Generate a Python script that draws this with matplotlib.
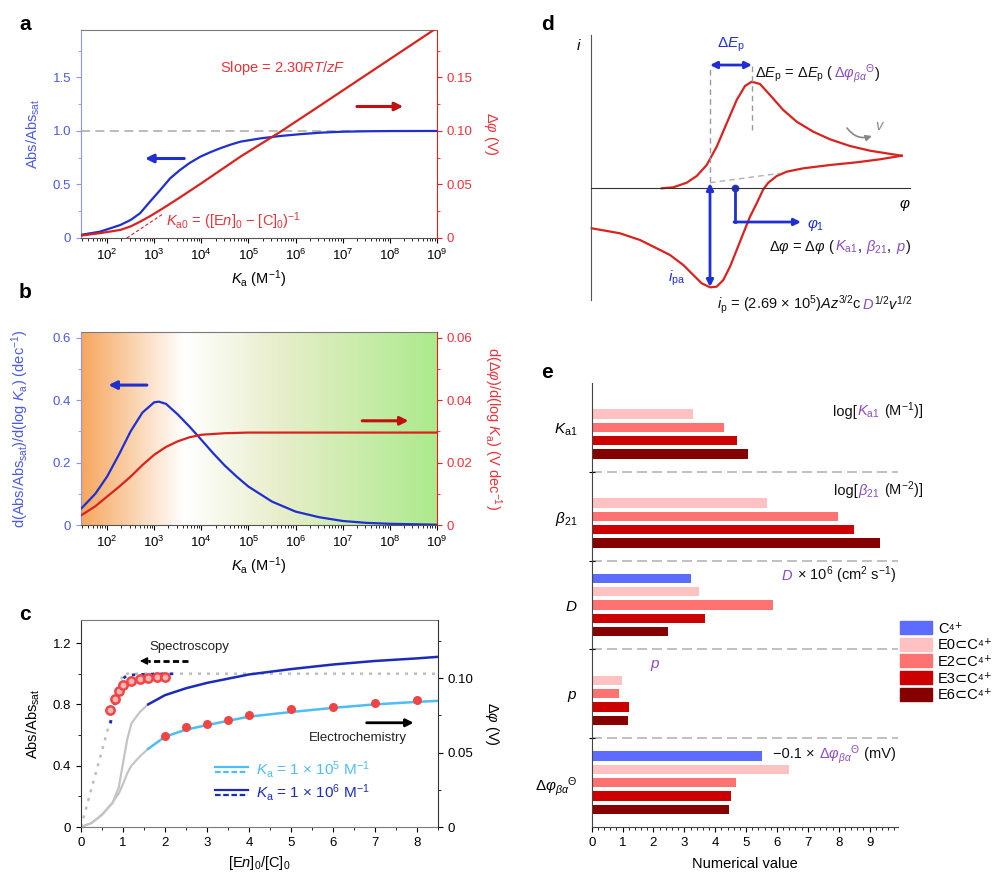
import numpy as np
import matplotlib
matplotlib.use("Agg")
import matplotlib.pyplot as plt
from matplotlib.lines import Line2D
from matplotlib.patches import Patch
from matplotlib.ticker import LogLocator, MultipleLocator, NullFormatter, FixedLocator
from matplotlib.legend_handler import HandlerBase
from matplotlib.offsetbox import TextArea, HPacker, AnnotationBbox

plt.rcParams['font.family'] = ['Liberation Sans', 'DejaVu Sans']
plt.rcParams['mathtext.fontset'] = 'custom'
plt.rcParams['mathtext.rm'] = 'Liberation Sans'
plt.rcParams['mathtext.it'] = 'Liberation Sans:italic'
plt.rcParams['mathtext.bf'] = 'Liberation Sans:bold'
plt.rcParams['mathtext.fallback'] = 'stixsans'
plt.rcParams['font.size'] = 9.5
plt.rcParams['xtick.direction'] = 'out'
plt.rcParams['ytick.direction'] = 'out'
plt.rcParams['xtick.major.size'] = 3.5
plt.rcParams['ytick.major.size'] = 3.5
plt.rcParams['xtick.minor.size'] = 2
plt.rcParams['ytick.minor.size'] = 2

# ---------------- data ----------------
# panel a (log10 Ka)
a_logka_abs = [1.43, 1.85, 2.28, 2.50, 2.70, 2.91, 3.13, 3.34, 3.55, 3.75, 3.98, 4.20, 4.40, 4.62, 4.83,
               5.26, 5.68, 6.10, 6.53, 7.0, 7.5, 8.0, 9.0]
a_abs = [0.028, 0.059, 0.121, 0.168, 0.231, 0.339, 0.449, 0.558, 0.636, 0.700, 0.760, 0.803, 0.838, 0.872, 0.900,
         0.931, 0.953, 0.970, 0.984, 0.993, 0.997, 0.999, 1.0]
a_logka_dphi = [1.43, 1.85, 2.28, 2.50, 2.70, 2.91, 3.13, 3.34, 3.55, 3.98, 4.83, 5.68, 6.53, 7.0, 8.0, 9.0]
a_dphi = [0.0021, 0.0045, 0.0075, 0.0108, 0.0152, 0.0203, 0.0262, 0.0320, 0.0380, 0.0505, 0.0760, 0.0993,
          0.1240, 0.1378, 0.1671, 0.1964]
a_tangent_logka = [2.42, 3.20]
a_tangent_dphi = [0.0, 0.0229]

# panel b
b_logka = [1.46, 1.75, 2.0, 2.25, 2.5, 2.75, 3.0, 3.1, 3.25, 3.5, 3.75, 4.0, 4.25, 4.5, 4.75, 5.0, 5.5,
           6.0, 6.5, 7.0, 7.5, 8.0, 9.0]
b_dabs = [0.054, 0.100, 0.155, 0.225, 0.300, 0.360, 0.393, 0.395, 0.388, 0.354, 0.315, 0.273, 0.230, 0.190,
          0.155, 0.123, 0.075, 0.043, 0.025, 0.013, 0.007, 0.004, 0.001]
b_logka_red = [1.46, 1.75, 2.0, 2.25, 2.5, 2.75, 3.0, 3.25, 3.5, 3.75, 4.0, 4.5, 5.0, 6.0, 7.0, 8.0, 9.0]
b_ddphi = [0.0032, 0.0060, 0.0091, 0.0122, 0.0155, 0.0192, 0.0225, 0.0250, 0.0268, 0.0281, 0.0289, 0.0294,
           0.0296, 0.0296, 0.0296, 0.0296, 0.0296]

# panel c
c_ideal_x = [0.0, 1.0, 8.5]
c_ideal_y = [0.0, 1.0, 1.0]
c_gray_x = [0.0, 0.25, 0.5, 0.75, 0.9, 1.0, 1.1, 1.2, 1.4, 1.6]
c_gray_1e6 = [0.0, 0.026, 0.08, 0.156, 0.26, 0.416, 0.57, 0.676, 0.75, 0.80]
c_gray_1e5 = [0.0, 0.026, 0.08, 0.16, 0.22, 0.28, 0.35, 0.40, 0.46, 0.51]
c_fit_x = [1.6, 2.0, 2.5, 3.0, 4.0, 5.0, 6.0, 7.0, 8.0, 8.5]
c_fit_1e6 = [0.80, 0.86, 0.905, 0.94, 0.995, 1.03, 1.06, 1.083, 1.10, 1.11]
c_fit_1e5 = [0.51, 0.589, 0.635, 0.665, 0.72, 0.75, 0.777, 0.80, 0.816, 0.823]
c_spec_1e6_x = [0.7, 0.8, 0.9, 1.0, 1.1, 1.4, 1.8, 2.2]
c_spec_1e6_y = [0.676, 0.80, 0.90, 0.968, 0.99, 0.995, 0.998, 0.999]
c_spec_1e5_x = [0.73, 0.8, 0.9, 1.0, 1.2, 1.4, 1.6, 1.8, 2.0]
c_spec_1e5_y = [0.74, 0.81, 0.87, 0.91, 0.945, 0.962, 0.972, 0.978, 0.982]
c_spec_pts_x = [0.7, 0.8, 0.9, 1.0, 1.2, 1.4, 1.6, 1.8, 2.0]
c_spec_pts_y = [0.762, 0.838, 0.886, 0.925, 0.953, 0.968, 0.975, 0.980, 0.981]
c_ec_pts_x = [2.0, 2.5, 3.0, 3.5, 4.0, 5.0, 6.0, 7.0, 8.0]
c_ec_pts_y = [0.596, 0.654, 0.674, 0.700, 0.732, 0.771, 0.786, 0.810, 0.830]

# panel d (schematic CV, arbitrary units)
cv_fwd_E = [70.7, 82.3, 95.7, 105.7, 115.7, 125.7, 135.7, 145.7, 154.0, 160.7, 169.0, 179.0, 192.3, 205.7,
            222.3, 239.0, 259.0, 279.0, 310.7]
cv_fwd_i = [-0.3, 0.7, 5.3, 12.0, 23.0, 41.3, 64.7, 88.0, 102.0, 106.3, 104.0, 93.0, 78.0, 66.3,
            56.3, 48.7, 42.0, 37.3, 32.3]
cv_rev_E = [310.7, 289.0, 265.7, 239.0, 212.3, 195.7, 185.7, 177.3, 172.3, 165.7, 159.0, 152.3, 145.7, 139.0,
            132.3, 125.7, 119.0, 110.7, 102.3, 92.3, 79.0, 65.7, 49.0, 29.0, 0.7]
cv_rev_i = [32.3, 28.7, 25.7, 23.0, 19.7, 16.3, 12.0, 5.3, -1.3, -15.3, -28.7, -45.3, -62.0, -78.7,
            -92.0, -98.7, -99.3, -95.3, -87.0, -77.0, -67.0, -60.3, -52.0, -45.3, -40.3]

# panel e
e_groups = [r'$K_\mathrm{a1}$', r'$\beta_{21}$', r'$D$', r'$p$', r'$\Delta\varphi_{\beta\alpha}{}^{\Theta}$']
e_series = ['C⁴⁺', 'E0⊂C⁴⁺', 'E2⊂C⁴⁺', 'E3⊂C⁴⁺', 'E6⊂C⁴⁺']
e_C4 = [np.nan, np.nan, 3.22, np.nan, 5.52]
e_E0 = [3.27, 5.68, 3.47, 0.97, 6.40]
e_E2 = [4.29, 7.97, 5.86, 0.89, 4.68]
e_E3 = [4.70, 8.49, 3.66, 1.21, 4.50]
e_E6 = [5.07, 9.33, 2.48, 1.18, 4.45]

# ---------------- styles ----------------
BLUE = '#1f2fd0'
BLUE_AX = '#4a5ae0'
RED = '#d8231f'
RED_AX = '#e8333a'
LBLUE = '#4fbdf5'
DBLUE = '#1b2db8'
PURPLE = '#8a4cc4'
GRAY = '#b5b5b5'
e_colors = ['#5b6cff', '#ffc1c1', '#ff7272', '#cc0000', '#870000']

fig = plt.figure(figsize=(10, 8.83), dpi=100)


def multicolor(ax, x, y, parts, size=10.5, align=0.0, coords='data'):
    areas = [TextArea(s, textprops=dict(color=c, fontsize=size)) for s, c in parts]
    box = HPacker(children=areas, align='baseline', pad=0, sep=0)
    ab = AnnotationBbox(box, (x, y), xycoords=coords, box_alignment=(align, 0.5),
                        frameon=False, pad=0, annotation_clip=False)
    ax.add_artist(ab)


def log_axis(ax):
    ax.set_xscale('log')
    ax.set_xlim(10 ** 1.447, 1e9)
    ax.xaxis.set_major_locator(FixedLocator([10.0 ** k for k in range(2, 10)]))
    ax.xaxis.set_minor_locator(LogLocator(base=10, subs=np.arange(2, 10), numticks=30))
    ax.xaxis.set_minor_formatter(NullFormatter())


def style_twin(ax, ax2, lcol, rcol, lspine, rspine):
    ax.spines['left'].set_color(lspine)
    ax.spines['right'].set_visible(False)
    ax.spines['top'].set_color('#7a7a7a')
    ax.spines['bottom'].set_color('#555555')
    ax2.spines['left'].set_visible(False)
    ax2.spines['top'].set_visible(False)
    ax2.spines['bottom'].set_visible(False)
    ax2.spines['right'].set_color(rspine)
    ax.tick_params(axis='y', which='both', colors=lspine, labelcolor=lcol)
    ax2.tick_params(axis='y', which='both', colors=rspine, labelcolor=rcol)


# ---------------- panel a ----------------
axa = fig.add_axes([0.081, 0.7305, 0.356, 0.2356])
log_axis(axa)
axa.axhline(1.0, color=GRAY, ls=(0, (5, 3)), lw=1.3, zorder=1)
axa.plot(10 ** np.array(a_logka_abs), a_abs, color=BLUE, lw=1.6, zorder=3)
axa.set_ylim(0, 1.944)
axa.set_yticks([0, 0.5, 1.0, 1.5])
axa.set_yticklabels(['0', '0.5', '1.0', '1.5'])
axa.yaxis.set_minor_locator(MultipleLocator(0.25))
axa2 = axa.twinx()
axa2.plot(10 ** np.array(a_logka_dphi), a_dphi, color=RED, lw=1.6)
axa2.plot(10 ** np.array(a_tangent_logka), a_tangent_dphi, color=RED, lw=0.8, ls=(0, (3, 2)))
axa2.set_ylim(0, 0.1944)
axa2.set_yticks([0, 0.05, 0.10, 0.15])
axa2.set_yticklabels(['0', '0.05', '0.10', '0.15'])
axa2.yaxis.set_minor_locator(MultipleLocator(0.025))
style_twin(axa, axa2, BLUE_AX, RED_AX, '#8c96f2', '#e02020')
axa.set_ylabel('Abs/Abs$_\\mathrm{sat}$', color=BLUE_AX, fontsize=10.5)
axa.yaxis.set_label_coords(-0.11, 0.5)
axa2.set_ylabel(r'$\Delta\varphi$ (V)', color=RED_AX, fontsize=10.5, rotation=270, va='bottom')
axa2.yaxis.set_label_coords(1.125, 0.5)
axa.set_xlabel(r'$K_\mathrm{a}$ (M$^{-1}$)', fontsize=10.5, labelpad=4)
axa.text(0.39, 0.817, 'Slope = 2.30$RT/zF$', color=RED_AX, fontsize=10.5, transform=axa.transAxes, va='center')
axa.text(0.24, 0.08, r'$K_\mathrm{a0}$ = ([E$n$]$_\mathrm{0}$ − [C]$_\mathrm{0}$)$^{-1}$', color=RED_AX,
         fontsize=10.5, transform=axa.transAxes, va='center')
axa.annotate('', xy=(0.18, 0.382), xytext=(0.29, 0.382), xycoords='axes fraction',
             arrowprops=dict(arrowstyle='-|>', color=BLUE, lw=2.2, mutation_scale=12, shrinkA=0, shrinkB=0))
axa.annotate('', xy=(0.905, 0.632), xytext=(0.775, 0.632), xycoords='axes fraction',
             arrowprops=dict(arrowstyle='-|>', color='#c01010', lw=2.2, mutation_scale=12, shrinkA=0, shrinkB=0))

# ---------------- panel b ----------------
posb = [0.081, 0.4054, 0.356, 0.2186]
bg = fig.add_axes(posb, zorder=-1)
stops = [0.0, 0.29, 0.55, 1.0]
cols = np.array([[246, 166, 94], [255, 255, 255], [233, 238, 204], [172, 234, 140]]) / 255.0
xs = np.linspace(0, 1, 512)
grad = np.stack([np.interp(xs, stops, cols[:, k]) for k in range(3)], axis=-1)[None, :, :]
bg.imshow(grad, aspect='auto', extent=[0, 1, 0, 1])
bg.axis('off')
axb = fig.add_axes(posb)
axb.set_facecolor('none')
log_axis(axb)
axb.plot(10 ** np.array(b_logka), b_dabs, color=BLUE, lw=1.6, zorder=3)
axb.set_ylim(0, 0.618)
axb.set_yticks([0, 0.2, 0.4, 0.6])
axb.set_yticklabels(['0', '0.2', '0.4', '0.6'])
axb.yaxis.set_minor_locator(MultipleLocator(0.1))
axb2 = axb.twinx()
axb2.plot(10 ** np.array(b_logka_red), b_ddphi, color=RED, lw=1.6)
axb2.set_ylim(0, 0.0618)
axb2.set_yticks([0, 0.02, 0.04, 0.06])
axb2.set_yticklabels(['0', '0.02', '0.04', '0.06'])
axb2.yaxis.set_minor_locator(MultipleLocator(0.01))
style_twin(axb, axb2, BLUE_AX, RED_AX, '#8c96f2', '#e02020')
axb.set_ylabel(r'd(Abs/Abs$_\mathrm{sat}$)/d(log $K_\mathrm{a}$) (dec$^{-1}$)', color=BLUE_AX, fontsize=10.5)
axb.yaxis.set_label_coords(-0.14, 0.5)
axb2.set_ylabel(r'd($\Delta\varphi$)/d(log $K_\mathrm{a}$) (V dec$^{-1}$)', color=RED_AX, fontsize=10.5,
                rotation=270, va='bottom')
axb2.yaxis.set_label_coords(1.125, 0.5)
axb.set_xlabel(r'$K_\mathrm{a}$ (M$^{-1}$)', fontsize=10.5, labelpad=4)
axb.annotate('', xy=(0.077, 0.725), xytext=(0.185, 0.725), xycoords='axes fraction',
             arrowprops=dict(arrowstyle='-|>', color=BLUE, lw=2.2, mutation_scale=12, shrinkA=0, shrinkB=0))
axb.annotate('', xy=(0.92, 0.54), xytext=(0.79, 0.54), xycoords='axes fraction',
             arrowprops=dict(arrowstyle='-|>', color='#c01010', lw=2.2, mutation_scale=12, shrinkA=0, shrinkB=0))

# ---------------- panel c ----------------
axc = fig.add_axes([0.081, 0.0634, 0.357, 0.2344])
axc.plot(c_ideal_x, c_ideal_y, color='#bdbdbd', ls=(0, (1.2, 2.4)), lw=1.8, zorder=1)
axc.plot(c_gray_x, c_gray_1e6, color='#c4c4c4', lw=1.6, zorder=2)
axc.plot(c_gray_x, c_gray_1e5, color='#c4c4c4', lw=1.6, zorder=2)
axc.plot(c_fit_x, c_fit_1e6, color=DBLUE, lw=1.8, zorder=3)
axc.plot(c_fit_x, c_fit_1e5, color=LBLUE, lw=1.8, zorder=3)
axc.plot(c_spec_1e6_x, c_spec_1e6_y, color=DBLUE, ls=(0, (1.2, 2.2)), lw=2, zorder=3)
axc.plot(c_spec_1e5_x, c_spec_1e5_y, color=LBLUE, ls=(0, (1.2, 2.2)), lw=2, zorder=3)
axc.plot(c_spec_pts_x, c_spec_pts_y, 'o', ms=6, mfc='#ffb5b5', mec='#f04545', mew=1.8, zorder=4)
axc.plot(c_ec_pts_x, c_ec_pts_y, 'o', ms=6.5, color='#f04545', mec='none', zorder=4)
axc.set_xlim(0, 8.5)
axc.set_ylim(0, 1.35)
axc.set_xticks(range(0, 9))
axc.xaxis.set_minor_locator(MultipleLocator(0.5))
axc.set_yticks([0, 0.4, 0.8, 1.2])
axc.set_yticklabels(['0', '0.4', '0.8', '1.2'])
axc.yaxis.set_minor_locator(MultipleLocator(0.2))
axc2 = axc.twinx()
axc2.set_ylim(0, 0.1389)
axc2.set_yticks([0, 0.05, 0.10])
axc2.set_yticklabels(['0', '0.05', '0.10'])
axc2.yaxis.set_minor_locator(MultipleLocator(0.025))
for s in ['left', 'top', 'bottom']:
    axc2.spines[s].set_visible(False)
axc.spines['right'].set_visible(False)
axc.spines['top'].set_color('#7a7a7a')
axc.spines['bottom'].set_color('#7a7a7a')
axc.spines['left'].set_color('#333333')
axc2.spines['right'].set_color('#333333')
axc.set_ylabel('Abs/Abs$_\\mathrm{sat}$', fontsize=10.5)
axc.yaxis.set_label_coords(-0.11, 0.5)
axc2.set_ylabel(r'$\Delta\varphi$ (V)', fontsize=10.5, rotation=270, va='bottom')
axc2.yaxis.set_label_coords(1.125, 0.5)
axc.set_xlabel(r'[E$n$]$_\mathrm{0}$/[C]$_\mathrm{0}$', fontsize=10.5, labelpad=4)
axc.text(2.58, 1.175, 'Spectroscopy', fontsize=9.5, ha='center', va='center', color='#222222')
axc.plot([2.55, 1.6], [1.083, 1.083], color='black', lw=2, ls=(0, (2.2, 1.2)))
axc.annotate('', xy=(1.4, 1.083), xytext=(1.62, 1.083),
             arrowprops=dict(arrowstyle='-|>', color='black', lw=1, mutation_scale=11, shrinkA=0, shrinkB=0))
axc.text(6.6, 0.58, 'Electrochemistry', fontsize=9.5, ha='center', va='center', color='#222222')
axc.annotate('', xy=(7.92, 0.68), xytext=(6.8, 0.68),
             arrowprops=dict(arrowstyle='-|>', color='black', lw=2, mutation_scale=11, shrinkA=0, shrinkB=0))


class StackHandler(HandlerBase):
    def create_artists(self, legend, orig_handle, xdescent, ydescent, width, height, fontsize, trans):
        c = orig_handle.get_color()
        x0 = -xdescent
        l1 = Line2D([x0, x0 + width], [-ydescent + 0.72 * height] * 2, color=c, lw=1.6, transform=trans)
        l2 = Line2D([x0, x0 + width], [-ydescent + 0.22 * height] * 2, color=c, lw=1.6,
                    ls=(0, (2.5, 1.2)), transform=trans)
        return [l1, l2]


hl = [Line2D([], [], color=LBLUE), Line2D([], [], color=DBLUE)]
leg = axc.legend(hl, [r'$K_\mathrm{a}$ = 1 × 10$^5$ M$^{-1}$', r'$K_\mathrm{a}$ = 1 × 10$^6$ M$^{-1}$'],
                 handler_map={Line2D: StackHandler()}, loc='upper left', bbox_to_anchor=(0.375, 0.33),
                 frameon=False, fontsize=11, handlelength=2.2, handletextpad=0.5, labelspacing=0.15,
                 borderpad=0, borderaxespad=0, labelcolor=[LBLUE, DBLUE])

# ---------------- panel d ----------------
axd = fig.add_axes([0.575, 0.6376, 0.37, 0.3284])
axd.set_xlim(-16, 354)
axd.set_ylim(-132, 158)
axd.set_facecolor('none')
for s in ['top', 'right']:
    axd.spines[s].set_visible(False)
axd.spines['left'].set_position(('data', 0))
axd.spines['left'].set_bounds(-112, 153)
axd.spines['bottom'].set_position(('data', 0))
axd.spines['bottom'].set_bounds(0, 319)
axd.spines['left'].set_color('#555555')
axd.spines['bottom'].set_color('#333333')
axd.set_xticks([])
axd.set_yticks([])
axd.plot(cv_fwd_E, cv_fwd_i, color=RED, lw=1.6, solid_joinstyle='round')
axd.plot(cv_rev_E, cv_rev_i, color=RED, lw=1.6, solid_joinstyle='round')
axd.plot([119, 119], [6, 123], color='#999999', lw=1, ls=(0, (4, 3)))
axd.plot([160.7, 160.7], [58, 123], color='#999999', lw=1, ls=(0, (4, 3)))
axd.plot([119, 189], [5.3, 14.7], color='#b0b0b0', lw=1, ls=(0, (4, 3)))
axd.annotate('', xy=(119, 123), xytext=(161, 123),
             arrowprops=dict(arrowstyle='<|-|>', color=BLUE, lw=2, mutation_scale=10, shrinkA=0, shrinkB=0))
axd.text(140, 143, r'$\Delta E_\mathrm{p}$', color=BLUE, fontsize=11, ha='center', va='center')
multicolor(axd, 164, 114, [(r'$\Delta E_\mathrm{p}$ = $\Delta E_\mathrm{p}$ (', '#111111'),
                           (r'$\Delta\varphi_{\beta\alpha}{}^{\Theta}$', PURPLE), (')', '#111111')], size=10.5)
axd.annotate('', xy=(119, 5), xytext=(119, -99),
             arrowprops=dict(arrowstyle='<|-|>', color=BLUE, lw=2, mutation_scale=10, shrinkA=0, shrinkB=0))
axd.text(86, -90, r'$i_\mathrm{pa}$', color=BLUE, fontsize=11, ha='center', va='center')
axd.plot([144, 144], [0, -34], color=BLUE, lw=2)
axd.plot([144], [0], 'o', color=BLUE, ms=4.5)
axd.annotate('', xy=(210, -34), xytext=(143, -34),
             arrowprops=dict(arrowstyle='-|>', color=BLUE, lw=2, mutation_scale=10, shrinkA=0, shrinkB=0))
axd.text(216, -37, r'$\varphi_\mathrm{1}$', color=BLUE, fontsize=11, ha='left', va='center')
multicolor(axd, 178, -59, [(r'$\Delta\varphi$ = $\Delta\varphi$ (', '#111111'), (r'$K_\mathrm{a1}$', PURPLE),
                           (', ', '#111111'), (r'$\beta_{21}$', PURPLE), (', ', '#111111'),
                           (r'$p$', PURPLE), (')', '#111111')], size=10.5)
multicolor(axd, 126, -117, [(r'$i_\mathrm{p}$ = (2.69 × 10$^5$)$Az^{3/2}$c', '#111111'), (r'$D$', PURPLE),
                            (r'$^{1/2}v^{1/2}$', '#111111')], size=10.5)
axd.text(-12, 143, r'$i$', fontsize=11, ha='center', va='center')
axd.text(314, -17, r'$\varphi$', fontsize=11, ha='center', va='center')
axd.annotate('', xy=(281, 52), xytext=(256, 60),
             arrowprops=dict(arrowstyle='-|>', color='#888888', lw=1.2, mutation_scale=9,
                             connectionstyle='arc3,rad=0.35', shrinkA=0, shrinkB=0))
axd.text(289, 62, r'$v$', fontsize=10.5, color='#888888', ha='center', va='center')

# ---------------- panel e ----------------
axe = fig.add_axes([0.5917, 0.0634, 0.306, 0.5028])
vals = [e_C4, e_E0, e_E2, e_E3, e_E6]
for s, (v, col, lab) in enumerate(zip(vals, e_colors, e_series)):
    ypos = np.arange(len(e_groups)) + 0.2 + 0.15 * s
    axe.barh(ypos, v, height=0.105, color=col, label=lab)
for g in range(1, 5):
    axe.axhline(g, color='#b5b5b5', lw=1.2, ls=(0, (6, 3)), zorder=0)
axe.set_ylim(5, 0)
axe.set_xlim(0, 9.91)
axe.set_yticks([1, 2, 3, 4])
axe.set_yticklabels([])
axe.tick_params(axis='y', which='major', direction='inout', length=5)
axe.set_yticks(np.arange(5) + 0.5, minor=True)
axe.set_yticklabels(e_groups, minor=True, fontsize=11)
axe.tick_params(axis='y', which='minor', length=0, pad=10)
axe.set_xticks(range(0, 10))
axe.xaxis.set_minor_locator(MultipleLocator(0.2))
for s in ['top', 'right']:
    axe.spines[s].set_visible(False)
axe.spines['left'].set_color('#444444')
axe.spines['bottom'].set_color('#444444')
axe.set_xlabel('Numerical value', fontsize=10.5, labelpad=6)
multicolor(axe, 10.72, 0.316, [('log[', '#111111'), (r'$K_\mathrm{a1}$', PURPLE), (' (M$^{-1}$)]', '#111111')],
           align=1.0)
multicolor(axe, 10.72, 1.206, [('log[', '#111111'), (r'$\beta_{21}$', PURPLE), (' (M$^{-2}$)]', '#111111')],
           align=1.0)
multicolor(axe, 9.88, 2.165, [(r'$D$', PURPLE), (' × 10$^6$ (cm$^2$ s$^{-1}$)', '#111111')], align=1.0)
axe.text(2.05, 3.18, r'$p$', color=PURPLE, fontsize=11, ha='center', va='center')
multicolor(axe, 9.84, 4.18, [('−0.1 × ', '#111111'), (r'$\Delta\varphi_{\beta\alpha}{}^{\Theta}$', PURPLE),
                             (' (mV)', '#111111')], align=1.0)
handles = [Patch(color=c) for c in e_colors]
fig.legend(handles, e_series, loc='upper left', bbox_to_anchor=(0.9, 1 - 621 / 883), frameon=False,
           fontsize=10.5, handlelength=2.2, handleheight=1.0, labelspacing=0.15, handletextpad=0.4,
           borderpad=0, borderaxespad=0)

# ---------------- panel letters ----------------
for lab, x, y in [('a', 0.019, 25), ('b', 0.019, 293), ('c', 0.019, 614), ('d', 0.541, 25), ('e', 0.541, 372)]:
    fig.text(x, 1 - y / 883, lab, fontsize=15, fontweight='bold', va='center')

fig.savefig('out.png', dpi=100)
